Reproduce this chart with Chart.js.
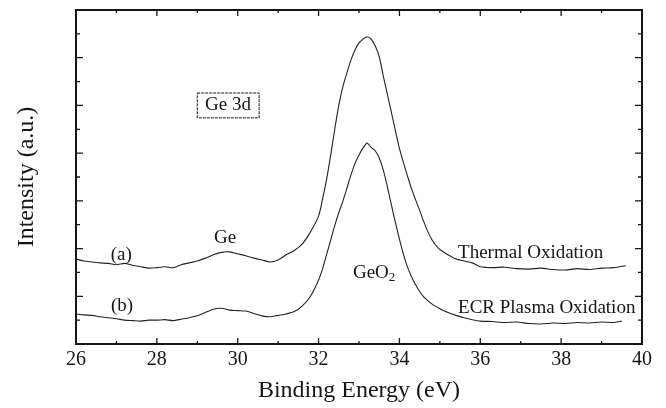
<html>
<head>
<script src="https://cdn.jsdelivr.net/npm/chart.js@4.4.0/dist/chart.umd.min.js"></script>
<style>
  body { margin: 0; background: #fff; }
  #wrap { width: 666px; height: 408px; position: relative; }
</style>
</head>
<body>
<div id="wrap"><canvas id="canvas"></canvas></div>
<script>
// Ge 3d XPS spectra (arbitrary units)
var energyA = [26.0,26.2,26.4,26.6,26.8,27.0,27.2,27.4,27.6,27.8,28.0,28.2,28.4,28.6,28.8,29.0,29.2,29.4,29.6,29.8,
  30.0,30.2,30.4,30.6,30.8,31.0,31.2,31.4,31.6,31.8,32.0,
  32.1,32.2,32.3,32.4,32.5,32.6,32.7,32.8,32.9,33.0,33.1,33.2,33.3,33.4,33.5,33.6,33.7,33.8,33.9,34.0,
  34.1,34.2,34.3,34.4,34.5,34.6,34.7,34.8,34.9,35.0,
  35.2,35.4,35.6,35.8,36.0,36.3,36.6,36.9,37.2,37.5,37.8,38.1,38.4,38.7,39.0,39.3,39.6];
var thermal = [1.78,1.74,1.72,1.70,1.69,1.66,1.69,1.65,1.62,1.59,1.60,1.62,1.60,1.66,1.70,1.74,1.80,1.87,1.92,1.93,
  1.89,1.85,1.80,1.76,1.72,1.76,1.87,1.96,2.10,2.35,2.68,
  3.04,3.46,3.96,4.50,5.00,5.39,5.68,5.95,6.16,6.31,6.39,6.44,6.39,6.25,6.02,5.62,5.24,4.86,4.47,4.10,
  3.80,3.52,3.25,3.02,2.80,2.57,2.36,2.19,2.07,1.98,
  1.87,1.78,1.74,1.70,1.62,1.60,1.61,1.58,1.57,1.59,1.56,1.55,1.58,1.56,1.59,1.60,1.64];

var energyB = [26.0,26.2,26.4,26.6,26.8,27.0,27.2,27.4,27.6,27.8,28.0,28.2,28.4,28.6,28.8,29.0,29.2,29.4,29.6,29.8,
  30.0,30.2,30.4,30.6,30.8,31.0,31.2,31.4,31.6,31.8,32.0,
  32.1,32.2,32.3,32.4,32.5,32.6,32.7,32.8,32.9,33.0,33.1,33.2,33.3,33.4,33.5,33.6,33.7,33.8,33.9,34.0,
  34.1,34.2,34.3,34.4,34.5,34.6,
  34.8,35.0,35.2,35.4,35.6,35.8,36.0,36.3,36.6,36.9,37.2,37.5,37.8,38.1,38.4,38.7,39.0,39.3,39.5];
var ecr = [0.63,0.61,0.60,0.57,0.55,0.53,0.50,0.49,0.48,0.50,0.50,0.51,0.49,0.52,0.55,0.59,0.66,0.73,0.75,0.71,
  0.70,0.69,0.64,0.59,0.57,0.60,0.63,0.68,0.80,1.00,1.34,
  1.58,1.88,2.18,2.48,2.75,2.99,3.26,3.54,3.78,3.96,4.11,4.21,4.12,4.05,3.90,3.65,3.30,2.92,2.55,2.20,
  1.88,1.61,1.41,1.24,1.10,0.99,
  0.84,0.74,0.66,0.60,0.55,0.51,0.48,0.47,0.45,0.46,0.43,0.42,0.44,0.43,0.45,0.44,0.46,0.45,0.48];

var xTicks = [26, 28, 30, 32, 34, 36, 38, 40];

function pairs(xs, ys) {
  return xs.map(function(x, i) { return {x: x, y: ys[i]}; });
}

var serif = "'Liberation Serif', 'Times New Roman', serif";
var ink = '#161616';

// frame, inward ticks and the text notes on the plot
var framePlugin = {
  id: 'frame',
  afterDraw: function(chart) {
    var ctx = chart.ctx, a = chart.chartArea;
    var xs = chart.scales.x, ys = chart.scales.y;
    ctx.save();
    ctx.strokeStyle = ink;
    ctx.lineWidth = 2;
    ctx.strokeRect(a.left, a.top, a.right - a.left, a.bottom - a.top);

    ctx.lineWidth = 1.3;
    ctx.beginPath();
    for (var v = 27; v < 40; v++) {
      var px = xs.getPixelForValue(v);
      var len = v % 2 === 0 ? 6 : 3;
      ctx.moveTo(px, a.bottom); ctx.lineTo(px, a.bottom - len);
      ctx.moveTo(px, a.top); ctx.lineTo(px, a.top + len);
    }
    for (var w = 0.5; w < 7; w += 0.5) {
      var py = ys.getPixelForValue(w);
      var l2 = w % 1 === 0 ? 7 : 4;
      ctx.moveTo(a.left, py); ctx.lineTo(a.left + l2, py);
      ctx.moveTo(a.right, py); ctx.lineTo(a.right - l2, py);
    }
    ctx.stroke();

    ctx.fillStyle = ink;
    ctx.font = '19px ' + serif;
    ctx.textBaseline = 'middle';
    function put(t, x, y, align) {
      ctx.textAlign = align || 'left';
      ctx.fillText(t, xs.getPixelForValue(x), ys.getPixelForValue(y));
    }
    put('(a)', 27.12, 1.86, 'center');
    put('(b)', 27.14, 0.80, 'center');
    put('Ge', 29.69, 2.22, 'center');
    put('Thermal Oxidation', 35.45, 1.91);
    put('ECR Plasma Oxidation', 35.45, 0.76);
    put('Ge 3d', 29.76, 5.0, 'center');

    // GeO2 with subscript
    var gx = xs.getPixelForValue(32.85), gy = ys.getPixelForValue(1.49);
    ctx.textAlign = 'left';
    ctx.fillText('GeO', gx, gy);
    var gw = ctx.measureText('GeO').width;
    ctx.font = '13px ' + serif;
    ctx.fillText('2', gx + gw, gy + 5);

    // box round "Ge 3d"
    ctx.lineWidth = 1;
    ctx.setLineDash([3, 1]);
    var bx0 = xs.getPixelForValue(29.0), bx1 = xs.getPixelForValue(30.53);
    var by0 = ys.getPixelForValue(5.26), by1 = ys.getPixelForValue(4.74);
    ctx.strokeRect(bx0, by0, bx1 - bx0, by1 - by0);
    ctx.restore();
  }
};

var ctx = document.getElementById('canvas').getContext('2d');
var chart = new Chart(ctx, {
  type: 'line',
  data: {
    datasets: [{
      label: 'Thermal Oxidation',
      data: pairs(energyA, thermal),
      borderColor: '#222',
      borderWidth: 1.1,
      pointRadius: 0,
      tension: 0.25,
      fill: false
    }, {
      label: 'ECR Plasma Oxidation',
      data: pairs(energyB, ecr),
      borderColor: '#222',
      borderWidth: 1.1,
      pointRadius: 0,
      tension: 0.25,
      fill: false
    }]
  },
  options: {
    responsive: true,
    maintainAspectRatio: false,
    animation: false,
    layout: { padding: { top: 10, right: 24, bottom: 0, left: 0 } },
    plugins: { legend: { display: false }, tooltip: { enabled: false } },
    scales: {
      x: {
        type: 'linear',
        min: 26, max: 40,
        afterBuildTicks: function(s) { s.ticks = xTicks.map(function(v) { return {value: v}; }); },
        afterFit: function(s) { s.height = 64; },
        ticks: { color: ink, padding: 4, font: { family: serif, size: 20 } },
        grid: { display: false, drawTicks: false },
        border: { display: false },
        title: { display: true, text: 'Binding Energy (eV)', color: ink,
                 font: { family: serif, size: 24 }, padding: { top: 0, bottom: 3 } }
      },
      y: {
        min: 0, max: 7,
        afterFit: function(s) { s.width = 76; },
        ticks: { display: false },
        grid: { display: false, drawTicks: false },
        border: { display: false },
        title: { display: true, text: 'Intensity (a.u.)', color: ink,
                 font: { family: serif, size: 24 }, padding: { top: 12, bottom: 0 } }
      }
    }
  },
  plugins: [framePlugin]
});
</script>
</body>
</html>
